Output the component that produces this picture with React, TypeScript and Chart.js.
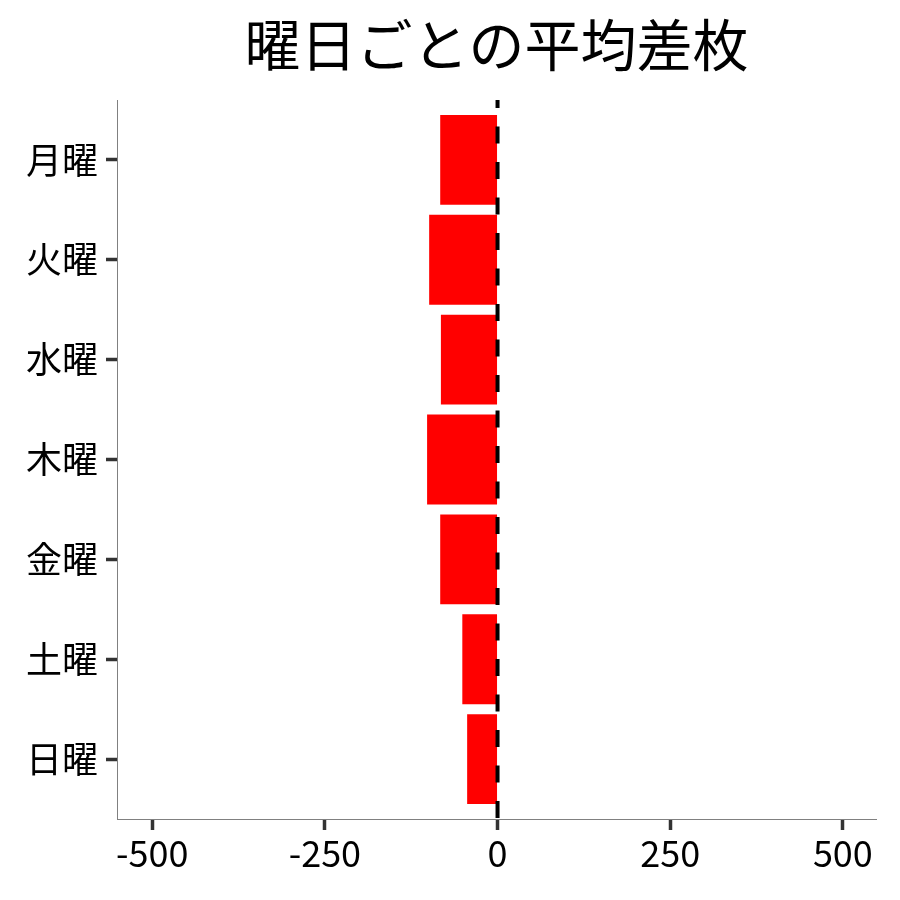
import { useEffect, useRef } from "react";
import { Chart, registerables } from "chart.js";

Chart.register(...registerables);

const TITLE = "曜日ごとの平均差枚";
const days = ["月曜", "火曜", "水曜", "木曜", "金曜", "土曜", "日曜"];
const avgDiff = [-83, -99, -82, -102, -83, -51, -44];
const xTicks = [-500, -250, 0, 250, 500];

const FONT = "'Noto Sans CJK JP', 'Noto Sans', sans-serif";

// zero reference line + centred title over the panel
const overlay = {
  id: "overlay",
  afterDatasetsDraw(chart: any) {
    const { ctx, chartArea, scales } = chart;
    const x0 = scales.x.getPixelForValue(0);
    ctx.save();
    ctx.strokeStyle = "#000";
    ctx.lineWidth = 4;
    ctx.setLineDash([17, 18.5]);
    ctx.lineDashOffset = 9;
    ctx.beginPath();
    ctx.moveTo(x0, chartArea.top);
    ctx.lineTo(x0, chartArea.bottom);
    ctx.stroke();
    ctx.restore();
  },
  afterDraw(chart: any) {
    const { ctx, chartArea } = chart;
    ctx.save();
    ctx.fillStyle = "#000";
    ctx.font = `56px ${FONT}`;
    ctx.textAlign = "center";
    ctx.textBaseline = "middle";
    ctx.fillText(TITLE, (chartArea.left + chartArea.right) / 2, 45);
    ctx.restore();
  },
};

export default function App() {
  const canvasRef = useRef<HTMLCanvasElement | null>(null);
  const chartRef = useRef<Chart | null>(null);

  useEffect(() => {
    document.body.style.margin = "0";
    if (!canvasRef.current) return;
    if (chartRef.current) {
      chartRef.current.destroy();
      chartRef.current = null;
    }

    chartRef.current = new Chart(canvasRef.current, {
      type: "bar",
      data: {
        datasets: [
          {
            data: avgDiff.map((v, i) => ({ x: v, y: i + 1 })),
            backgroundColor: "#ff0000",
            borderWidth: 0,
            barPercentage: 0.9,
            categoryPercentage: 1,
          },
        ],
      },
      options: {
        indexAxis: "y",
        animation: false,
        responsive: false,
        layout: { padding: { top: 100, right: 24, bottom: 0, left: 0 } },
        plugins: {
          legend: { display: false },
          tooltip: { enabled: false },
          title: { display: false },
        },
        scales: {
          x: {
            type: "linear",
            min: -551,
            max: 548,
            afterBuildTicks: (axis: any) => {
              axis.ticks = xTicks.map((v) => ({ value: v }));
            },
            afterFit: (axis: any) => {
              axis.height = 81;
            },
            grid: {
              display: true,
              drawOnChartArea: false,
              drawTicks: true,
              tickLength: 11,
              tickWidth: 3.5,
              tickColor: "#333333",
            },
            border: { display: true, color: "#808080", width: 1 },
            ticks: {
              color: "#000",
              padding: 2,
              maxRotation: 0,
              font: { family: FONT, size: 36 },
            },
          },
          y: {
            type: "linear",
            reverse: true,
            offset: false,
            min: 0.4,
            max: 7.6,
            afterBuildTicks: (axis: any) => {
              axis.ticks = days.map((_, i) => ({ value: i + 1 }));
            },
            afterFit: (axis: any) => {
              axis.width = 117;
            },
            grid: {
              display: true,
              offset: false,
              drawOnChartArea: false,
              drawTicks: true,
              tickLength: 11,
              tickWidth: 3.5,
              tickColor: "#333333",
            },
            border: { display: true, color: "#808080", width: 1 },
            ticks: {
              color: "#000",
              padding: 8,
              font: { family: FONT, size: 36 },
              callback: (v: any) => days[Number(v) - 1] ?? "",
            },
          },
        },
      },
      plugins: [overlay],
    });

    return () => {
      if (chartRef.current) {
        chartRef.current.destroy();
        chartRef.current = null;
      }
    };
  }, []);

  return (
    <div style={{ width: 900, height: 900 }}>
      <canvas ref={canvasRef} width={900} height={900} />
    </div>
  );
}
